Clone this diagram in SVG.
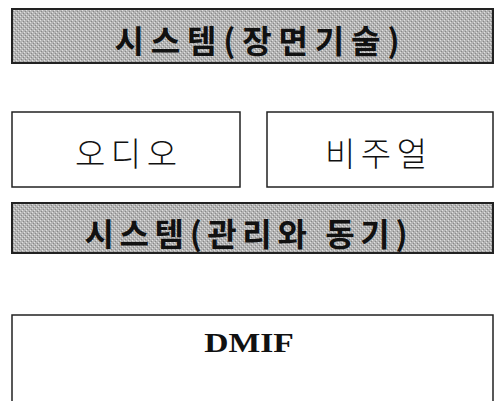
<svg xmlns="http://www.w3.org/2000/svg" width="495" height="401" viewBox="0 0 495 401">
<defs>
<pattern id="dither" width="4" height="4" patternUnits="userSpaceOnUse">
<rect width="4" height="4" fill="#b4b4b4"/>
<rect x="0" y="0" width="1" height="1" fill="#e0e0e0"/>
<rect x="2" y="2" width="1" height="1" fill="#e0e0e0"/>
<rect x="1" y="3" width="1" height="1" fill="#888"/>
<rect x="3" y="1" width="1" height="1" fill="#888"/>
</pattern>
</defs>
<style>
.gray{fill:url(#dither);stroke:#222;stroke-width:2}
.white{fill:#fff;stroke:#222;stroke-width:1.5}
.kb{font-family:"Noto Sans CJK KR",sans-serif;font-weight:bold;font-size:32px;fill:#111;text-anchor:middle}
.kn{font-family:"Noto Sans CJK KR",sans-serif;font-weight:300;font-size:33px;fill:#111;text-anchor:middle}
.en{font-family:"Liberation Serif",serif;font-weight:bold;font-size:28px;fill:#111;text-anchor:middle}
</style>
<g id="scene">
<rect class="gray" x="12" y="9" width="481" height="54"/>
<text class="kb" x="257" y="53" textLength="285" lengthAdjust="spacing">시스템(장면기술)</text>
</g>
<g id="audio">
<rect class="white" x="12" y="112" width="228" height="75"/>
<text class="kn" x="126" y="166" textLength="102" lengthAdjust="spacing">오디오</text>
</g>
<g id="visual">
<rect class="white" x="267" y="112" width="226" height="75"/>
<text class="kn" x="376" y="166" textLength="102" lengthAdjust="spacing">비주얼</text>
</g>
<g id="sync">
<rect class="gray" x="12" y="203" width="481" height="50"/>
<text class="kb" x="246" y="246" textLength="323" lengthAdjust="spacing">시스템(관리와 동기)</text>
</g>
<g id="dmif">
<path d="M12,402 V315 H493 V402" fill="#fff" stroke="#222" stroke-width="1.5"/>
<text class="en" transform="translate(249,352) scale(1.2,1)">DMIF</text>
</g>
<g id="connectors"></g>
</svg>
